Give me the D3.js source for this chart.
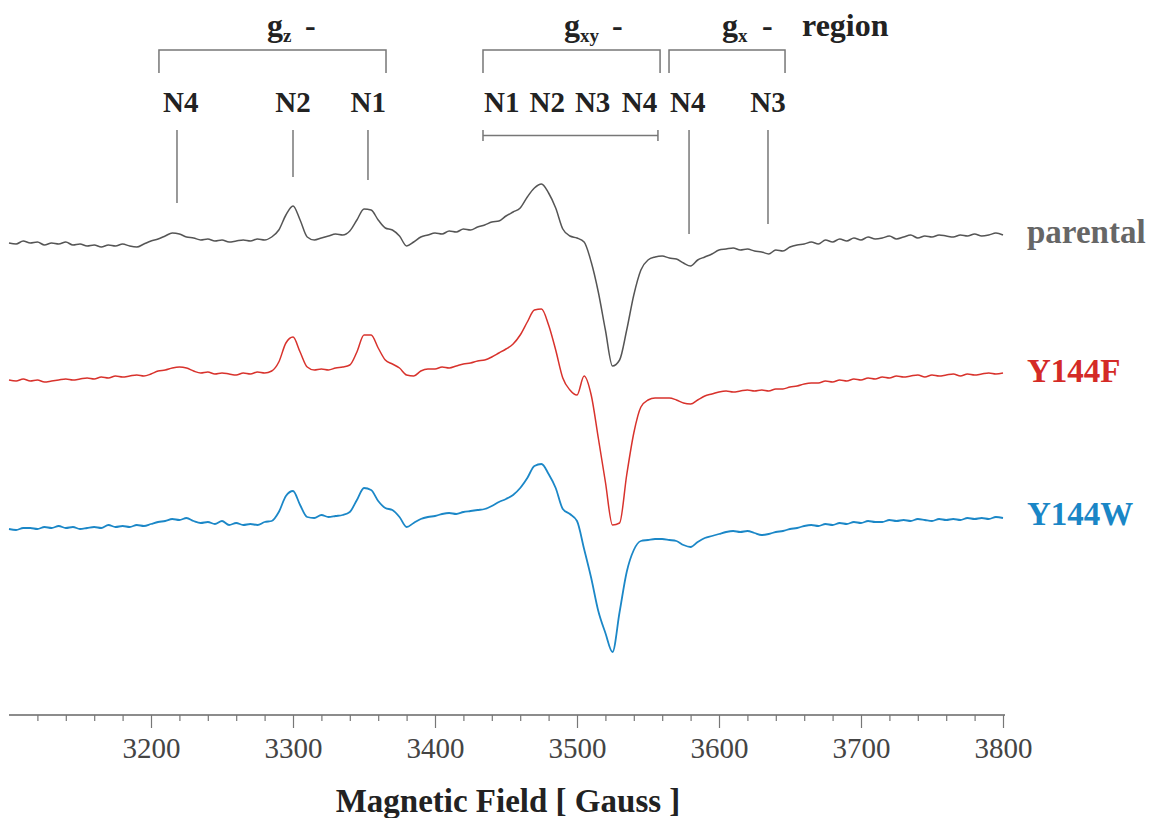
<!DOCTYPE html>
<html>
<head>
<meta charset="utf-8">
<script src="https://cdn.jsdelivr.net/npm/d3@7"></script>
<style>
  html, body { margin: 0; padding: 0; background: #fff; }
  svg { display: block; }
  svg text { font-family: "Liberation Serif", "Times New Roman", serif; }
</style>
</head>
<body>
<svg id="chart" width="1152" height="818"></svg>
<script>
// ---------- data ----------
const fieldStart = 3100, fieldStep = 5;   // Gauss sampling grid (3100..3800)
const seriesNames = ["parental", "Y144F", "Y144W"];
const seriesOffsets = [0, -137, -286];      // vertical stacking offset (a.u.)
const parental = [
  0,-1,2,0,1,-2,0,-1,1,-2,-1,-3,-2,-4,-2,-3,-1,-3,-4,-1,
  2,4,7,10,9,6,5,3,4,2,3,1,2,3,2,4,3,6,13,28,
  37,23,6,3,5,7,9,8,12,23,34,33,23,15,13,7,-3,1,6,8,
  10,9,12,11,14,13,16,18,21,22,27,31,35,46,55,59,50,35,14,7,
  5,1,-19,-49,-87,-123,-117,-87,-52,-27,-17,-14,-13,-15,-16,-20,-23,-17,-14,-11,
  -7,-6,-5,-7,-6,-8,-9,-11,-7,-8,-4,-2,-1,1,-1,3,1,4,2,5,
  3,6,4,5,7,4,6,8,5,7,6,8,7,6,8,7,9,7,8,10,
  8
];
const y144F = [
  0,-1,1,-1,0,-2,-1,0,1,0,1,2,1,3,2,4,3,4,5,4,
  6,9,10,12,13,12,9,7,8,6,7,6,5,7,6,8,7,9,18,37,
  43,28,13,10,11,10,12,13,15,28,45,45,32,20,16,12,5,4,9,11,
  11,13,12,14,16,17,19,20,23,27,31,36,45,58,70,71,55,30,2,-10,
  -15,4,-15,-58,-102,-145,-143,-95,-53,-27,-20,-18,-18,-18,-20,-23,-24,-20,-16,-14,
  -12,-11,-12,-11,-10,-11,-10,-11,-9,-9,-7,-6,-4,-3,-3,-1,-2,0,-1,1,
  0,2,1,3,2,4,3,4,5,3,5,4,5,6,4,6,5,6,7,6,
  7
];
const y144W = [
  0,-1,1,1,0,2,1,3,1,2,0,1,2,1,4,2,3,2,4,3,
  5,7,8,10,9,11,8,6,7,5,8,4,6,4,5,4,7,8,17,33,
  38,24,12,11,14,12,13,14,17,29,41,39,28,21,19,12,2,6,10,12,
  13,15,16,15,17,18,19,20,23,27,30,34,41,51,63,65,55,41,20,15,
  8,-20,-49,-82,-104,-123,-83,-43,-21,-12,-11,-10,-10,-11,-12,-16,-18,-13,-9,-7,
  -5,-3,-2,-3,-2,-4,-6,-5,-3,-2,0,1,3,4,3,5,4,6,5,7,
  6,8,7,7,9,8,9,8,10,9,8,10,9,10,9,11,10,11,10,12,
  11
];
const seriesValues = [parental, y144F, y144W];
const seriesColors = ["#555555", "#d8322c", "#1b87c7"];
const labelColors = ["#666666", "#d42a26", "#1a86c6"];

const majorTicks = [3200, 3300, 3400, 3500, 3600, 3700, 3800];
const minorTicks = d3.range(3120, 3800, 20).filter(v => v % 100 !== 0);

// region annotations (Gauss)
const regionBrackets = [
  { from: 3205.6, to: 3365.5 },
  { from: 3433.8, to: 3558.5 },
  { from: 3564.8, to: 3646.5 }
];
const peakLabels = [
  { text: "N4", at: 3221 }, { text: "N2", at: 3300 }, { text: "N1", at: 3353 },
  { text: "N1", at: 3447 }, { text: "N2", at: 3479 }, { text: "N3", at: 3511 }, { text: "N4", at: 3544 },
  { text: "N4", at: 3578 }, { text: "N3", at: 3634.5 }
];
const peakMarkers = [
  { at: 3218.3, end: 203 }, { at: 3300, end: 177 }, { at: 3352.8, end: 180 },
  { at: 3578.9, end: 234 }, { at: 3634.5, end: 224 }
];
const gxyRange = [3433.8, 3557];

// ---------- scales ----------
const svg = d3.select("#chart");
const x = d3.scaleLinear().domain([3100, 3800]).range([9, 1003]);
const y = d3.scaleLinear().domain([-460, 240]).range([703, 3]);

// ---------- traces ----------
const line = d3.line()
  .x((d, i) => x(fieldStart + i * fieldStep))
  .y(d => d)
  .curve(d3.curveMonotoneX);

seriesValues.forEach((vals, k) => {
  svg.append("path")
    .datum(vals.map(v => y(v + seriesOffsets[k])))
    .attr("fill", "none")
    .attr("stroke", seriesColors[k])
    .attr("stroke-width", k === 2 ? 1.8 : 1.5)
    .attr("stroke-linejoin", "round")
    .attr("d", line);
  svg.append("text")
    .attr("x", 1027)
    .attr("y", y(seriesOffsets[k]) + [0, 2, -4][k])
    .attr("font-size", 33)
    .attr("font-weight", "bold")
    .attr("fill", labelColors[k])
    .text(seriesNames[k]);
});

// ---------- axis ----------
const axisY = 715;
const gAxis = svg.append("g").attr("transform", `translate(0,${axisY})`)
  .call(d3.axisBottom(x).tickValues(majorTicks).tickSize(13).tickSizeOuter(0).tickPadding(9)
    .tickFormat(d3.format("d")));
gAxis.attr("font-family", null);
gAxis.select(".domain").attr("stroke", "#666").attr("stroke-width", 1.6)
  .attr("d", `M${x(3100)},0H${x(3800) + 2}`);
gAxis.selectAll(".tick line").attr("stroke", "#777").attr("stroke-width", 1.2);
gAxis.selectAll(".tick text")
  .style("font-family", "'Liberation Serif', 'Times New Roman', serif")
  .attr("font-size", 29).attr("fill", "#444");
const gMinor = svg.append("g").attr("transform", `translate(0,${axisY})`)
  .call(d3.axisBottom(x).tickValues(minorTicks).tickSize(6).tickFormat(""));
gMinor.select(".domain").remove();
gMinor.selectAll(".tick line").attr("stroke", "#777").attr("stroke-width", 1.2);

svg.append("text")
  .attr("x", 508).attr("y", 812)
  .attr("text-anchor", "middle")
  .attr("font-size", 33).attr("font-weight", "bold").attr("fill", "#222")
  .text("Magnetic Field [ Gauss ]");

// ---------- region annotations ----------
const annColor = "#777";
regionBrackets.forEach(b => {
  svg.append("path")
    .attr("fill", "none").attr("stroke", annColor).attr("stroke-width", 1.5)
    .attr("d", `M${x(b.from)},73V50H${x(b.to)}V73`);
});

function gLabel(xs, sub, dashX) {
  const t = svg.append("text").attr("x", xs).attr("y", 36)
    .attr("font-size", 32).attr("font-weight", "bold").attr("fill", "#222");
  t.append("tspan").text("g");
  t.append("tspan").attr("dy", 6).attr("font-size", 19).text(sub);
  t.append("tspan").attr("x", dashX).attr("dy", -6).text("-");
}
gLabel(267, "z", 305);
gLabel(564, "xy", 612);
gLabel(722, "x", 762);
svg.append("text").attr("x", 802).attr("y", 36)
  .attr("font-size", 32).attr("font-weight", "bold").attr("fill", "#222")
  .text("region");

svg.selectAll(".peaklab").data(peakLabels).enter().append("text")
  .attr("class", "peaklab")
  .attr("x", d => x(d.at)).attr("y", 112)
  .attr("text-anchor", "middle")
  .attr("font-size", 29).attr("font-weight", "bold").attr("fill", "#222")
  .text(d => d.text);

svg.selectAll(".peakline").data(peakMarkers).enter().append("line")
  .attr("class", "peakline")
  .attr("x1", d => x(d.at)).attr("x2", d => x(d.at))
  .attr("y1", 130).attr("y2", d => d.end)
  .attr("stroke", annColor).attr("stroke-width", 1.5);

svg.append("path")
  .attr("fill", "none").attr("stroke", annColor).attr("stroke-width", 1.5)
  .attr("d", `M${x(gxyRange[0])},130V141M${x(gxyRange[0])},135.5H${x(gxyRange[1])}M${x(gxyRange[1])},130V141`);
</script>
</body>
</html>
